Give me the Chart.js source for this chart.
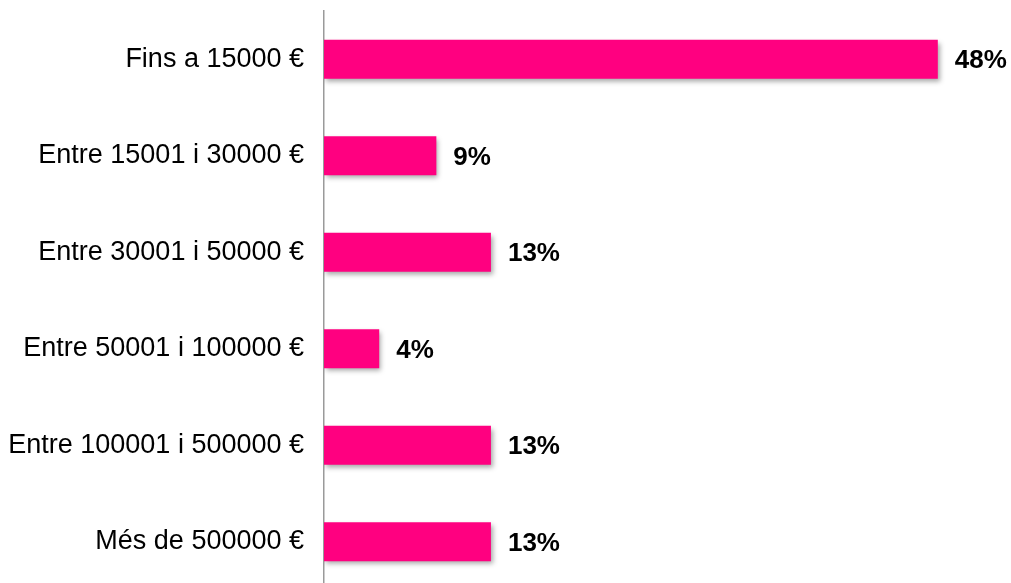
<!DOCTYPE html>
<html>
<head>
<meta charset="utf-8">
<script src="https://cdn.jsdelivr.net/npm/chart.js@4/dist/chart.umd.min.js"></script>
<style>
  html, body { margin: 0; padding: 0; background: #fff; overflow: hidden; }
  #wrap { width: 1011px; height: 590px; }
</style>
</head>
<body>
<div id="wrap"><canvas id="income"></canvas></div>
<script>
const categories = [
  'Fins a 15000 €',
  'Entre 15001 i 30000 €',
  'Entre 30001 i 50000 €',
  'Entre 50001 i 100000 €',
  'Entre 100001 i 500000 €',
  'Més de 500000 €'
]
const shares = [47.8, 8.75, 13.0, 4.3, 13.0, 13.0]
const shareLabels = ['48%', '9%', '13%', '4%', '13%', '13%']

// soft drop shadow under the bars
const barShadow = {
  id: 'barShadow',
  beforeDatasetsDraw (chart) {
    const ctx = chart.ctx
    ctx.save()
    ctx.shadowColor = 'rgba(0, 0, 0, 0.35)'
    ctx.shadowOffsetX = 2
    ctx.shadowOffsetY = 3
    ctx.shadowBlur = 5
  },
  afterDatasetsDraw (chart) {
    chart.ctx.restore()
  }
}

// bold percentages at the end of each bar
const valueLabels = {
  id: 'valueLabels',
  afterDatasetsDraw (chart) {
    const ctx = chart.ctx
    const meta = chart.getDatasetMeta(0)
    ctx.save()
    ctx.font = 'bold 26px "Liberation Sans", Arial, sans-serif'
    ctx.fillStyle = '#000'
    ctx.textAlign = 'left'
    ctx.textBaseline = 'middle'
    meta.data.forEach((bar, i) => {
      ctx.fillText(shareLabels[i], bar.x + 17, bar.y + 2)
    })
    ctx.restore()
  }
}

let income = new Chart(document.querySelector('#income'), {
  type: 'bar',
  plugins: [barShadow, valueLabels],
  data: {
    labels: categories,
    datasets: [
      {
        label: 'Percentatge',
        data: shares,
        backgroundColor: '#FF0080',
        categoryPercentage: 1,
        barPercentage: 0.405
      }
    ]
  },
  options: {
    indexAxis: 'y',
    responsive: true,
    maintainAspectRatio: false,
    animation: false,
    layout: {
      padding: { top: 11, right: 0, bottom: 0, left: 0 }
    },
    scales: {
      x: {
        display: false,
        min: 0,
        max: 53.5
      },
      y: {
        afterFit (scale) {
          scale.width = 324
          scale.paddingTop = 0
          scale.paddingBottom = 0
        },
        border: {
          display: true,
          color: '#9a9a9a',
          width: 1.5
        },
        grid: {
          display: false,
          drawTicks: false
        },
        ticks: {
          padding: 20,
          color: '#000',
          font: {
            family: '"Liberation Sans", Arial, sans-serif',
            size: 27
          }
        }
      }
    },
    plugins: {
      legend: { display: false },
      tooltip: { enabled: false }
    }
  }
})
</script>
</body>
</html>
